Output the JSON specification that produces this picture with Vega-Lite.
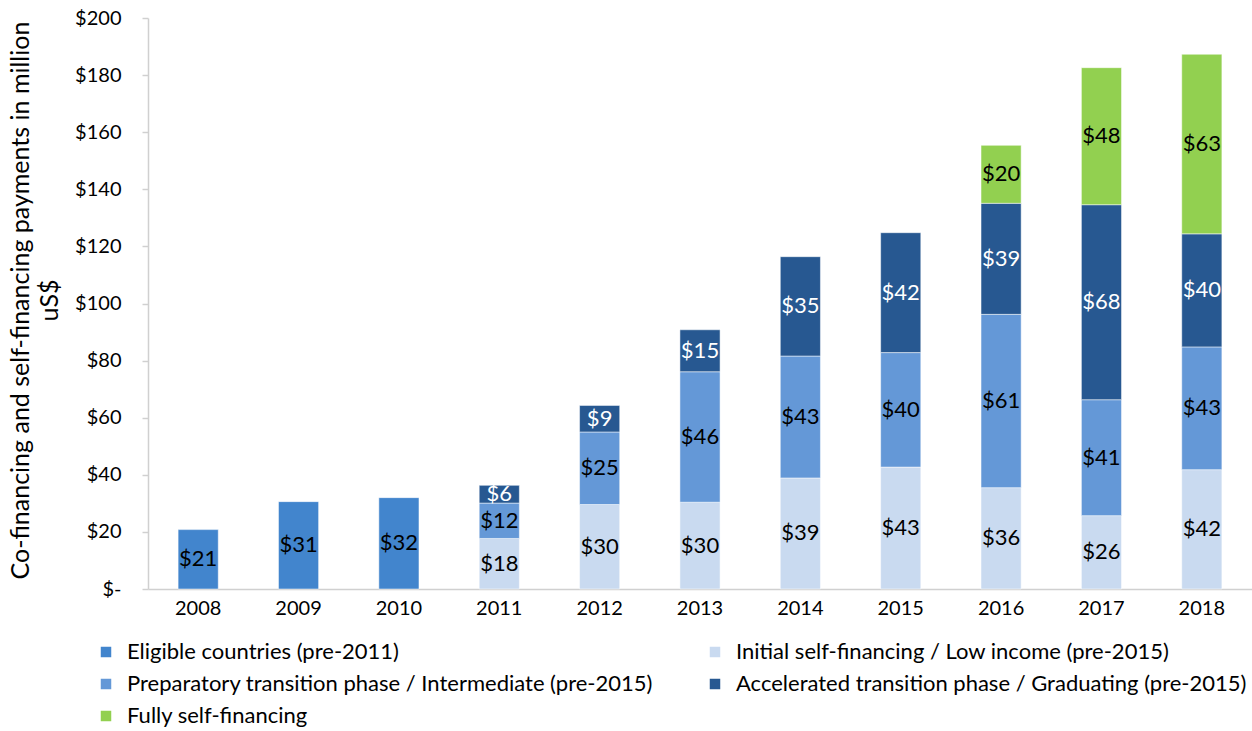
{
  "$schema": "https://vega.github.io/schema/vega-lite/v6.json",
  "width": 1104,
  "height": 571,
  "autosize": {"type": "none"},
  "padding": {"left": 148, "top": 18, "right": 0, "bottom": 142},
  "background": "white",
  "config": {
    "view": {"stroke": null},
    "font": "Lato",
    "axis": {"labelFont": "Lato", "titleFont": "Lato", "labelColor": "#000000", "titleColor": "#000000"},
    "legend": {"labelFont": "Lato"}
  },
  "data": {
    "values": [
      {"year": "2008", "series": "Eligible countries (pre-2011)", "k": 0, "value": 20.8},
      {"year": "2009", "series": "Eligible countries (pre-2011)", "k": 0, "value": 30.6},
      {"year": "2010", "series": "Eligible countries (pre-2011)", "k": 0, "value": 32.0},
      {"year": "2011", "series": "Initial self-financing / Low income (pre-2015)", "k": 1, "value": 17.7},
      {"year": "2011", "series": "Preparatory transition phase / Intermediate (pre-2015)", "k": 2, "value": 12.4},
      {"year": "2011", "series": "Accelerated transition phase / Graduating (pre-2015)", "k": 3, "value": 6.2},
      {"year": "2012", "series": "Initial self-financing / Low income (pre-2015)", "k": 1, "value": 29.6},
      {"year": "2012", "series": "Preparatory transition phase / Intermediate (pre-2015)", "k": 2, "value": 25.4},
      {"year": "2012", "series": "Accelerated transition phase / Graduating (pre-2015)", "k": 3, "value": 9.3},
      {"year": "2013", "series": "Initial self-financing / Low income (pre-2015)", "k": 1, "value": 30.4},
      {"year": "2013", "series": "Preparatory transition phase / Intermediate (pre-2015)", "k": 2, "value": 45.7},
      {"year": "2013", "series": "Accelerated transition phase / Graduating (pre-2015)", "k": 3, "value": 14.7},
      {"year": "2014", "series": "Initial self-financing / Low income (pre-2015)", "k": 1, "value": 38.9},
      {"year": "2014", "series": "Preparatory transition phase / Intermediate (pre-2015)", "k": 2, "value": 42.7},
      {"year": "2014", "series": "Accelerated transition phase / Graduating (pre-2015)", "k": 3, "value": 34.8},
      {"year": "2015", "series": "Initial self-financing / Low income (pre-2015)", "k": 1, "value": 42.7},
      {"year": "2015", "series": "Preparatory transition phase / Intermediate (pre-2015)", "k": 2, "value": 40.1},
      {"year": "2015", "series": "Accelerated transition phase / Graduating (pre-2015)", "k": 3, "value": 42.0},
      {"year": "2016", "series": "Initial self-financing / Low income (pre-2015)", "k": 1, "value": 35.5},
      {"year": "2016", "series": "Preparatory transition phase / Intermediate (pre-2015)", "k": 2, "value": 60.7},
      {"year": "2016", "series": "Accelerated transition phase / Graduating (pre-2015)", "k": 3, "value": 38.9},
      {"year": "2016", "series": "Fully self-financing", "k": 4, "value": 20.3},
      {"year": "2017", "series": "Initial self-financing / Low income (pre-2015)", "k": 1, "value": 25.7},
      {"year": "2017", "series": "Preparatory transition phase / Intermediate (pre-2015)", "k": 2, "value": 40.6},
      {"year": "2017", "series": "Accelerated transition phase / Graduating (pre-2015)", "k": 3, "value": 68.3},
      {"year": "2017", "series": "Fully self-financing", "k": 4, "value": 48.0},
      {"year": "2018", "series": "Initial self-financing / Low income (pre-2015)", "k": 1, "value": 41.8},
      {"year": "2018", "series": "Preparatory transition phase / Intermediate (pre-2015)", "k": 2, "value": 43.0},
      {"year": "2018", "series": "Accelerated transition phase / Graduating (pre-2015)", "k": 3, "value": 39.6},
      {"year": "2018", "series": "Fully self-financing", "k": 4, "value": 62.9}
    ]
  },
  "transform": [
    {"stack": "value", "groupby": ["year"], "sort": [{"field": "k", "order": "ascending"}], "as": ["y0", "y1"]},
    {"calculate": "(datum.y0 + datum.y1) / 2", "as": "ymid"}
  ],
  "encoding": {
    "x": {
      "field": "year",
      "type": "ordinal",
      "scale": {"paddingInner": 0.6, "paddingOuter": 0.3},
      "axis": {
        "title": null,
        "labelAngle": 0,
        "labelFontSize": 20,
        "labelPadding": 9,
        "ticks": false,
        "domainColor": "#D0D0D0",
        "domainWidth": 1.5
      }
    }
  },
  "layer": [
    {
      "mark": {"type": "bar", "stroke": "white", "strokeWidth": 0.5},
      "encoding": {
        "y": {
          "field": "y0",
          "type": "quantitative",
          "scale": {"domain": [0, 200]},
          "axis": {
            "values": [0, 20, 40, 60, 80, 100, 120, 140, 160, 180, 200],
            "labelExpr": "datum.value == 0 ? '$-' : '$' + datum.value",
            "labelFontSize": 20,
            "labelPadding": 21,
            "grid": false,
            "tickSize": 6,
            "tickColor": "#D0D0D0",
            "tickWidth": 1.5,
            "domainColor": "#D0D0D0",
            "domainWidth": 1.5,
            "title": ["Co-financing and self-financing payments in million", "uS$"],
            "titleFontSize": 25,
            "titleFontWeight": "normal",
            "titleAngle": -90,
            "titleX": -128,
            "titleY": 282,
            "titleAlign": "center",
            "titleBaseline": "middle",
            "titleLineHeight": 29
          }
        },
        "y2": {"field": "y1"},
        "color": {
          "field": "series",
          "type": "nominal",
          "scale": {
            "domain": [
              "Eligible countries (pre-2011)",
              "Initial self-financing / Low income (pre-2015)",
              "Preparatory transition phase / Intermediate (pre-2015)",
              "Accelerated transition phase / Graduating (pre-2015)",
              "Fully self-financing"
            ],
            "range": ["#4285CD", "#C9DAF0", "#6498D7", "#275891", "#92D050"]
          },
          "legend": {
            "title": null,
            "orient": "none",
            "legendX": -53,
            "legendY": 623,
            "columns": 2,
            "direction": "horizontal",
            "symbolType": "square",
            "symbolSize": 110,
            "symbolStrokeWidth": 0,
            "labelFontSize": 22,
            "labelOffset": 10,
            "labelLimit": 700,
            "rowPadding": 10,
            "columnPadding": 51
          }
        }
      }
    },
    {
      "mark": {"type": "text", "fontSize": 22, "baseline": "middle", "align": "center"},
      "encoding": {
        "y": {"field": "ymid", "type": "quantitative"},
        "text": {"field": "value", "type": "quantitative", "format": "$.0f"},
        "color": {
          "condition": {"test": "datum.k == 3", "value": "white"},
          "value": "black"
        }
      }
    }
  ]
}
